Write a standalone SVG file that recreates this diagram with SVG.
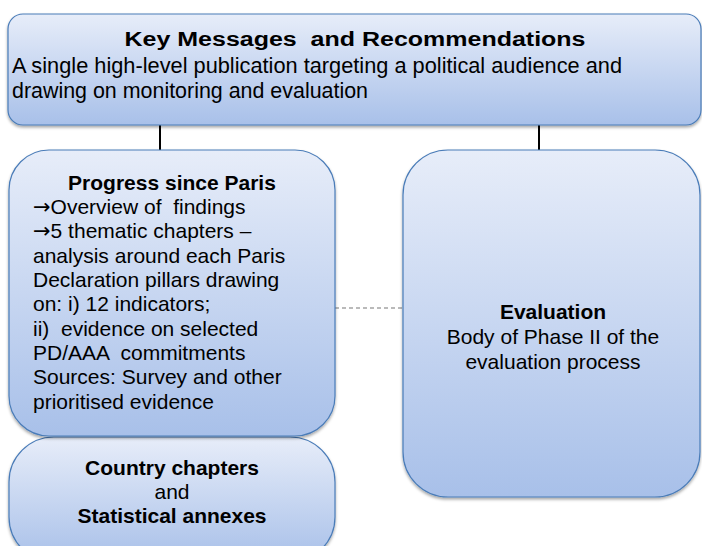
<svg xmlns="http://www.w3.org/2000/svg" width="702" height="546" viewBox="0 0 702 546">
<defs>
<linearGradient id="g" x1="0" y1="0" x2="0" y2="1">
<stop offset="0" stop-color="#e7edf9"/>
<stop offset="1" stop-color="#a8c0e9"/>
</linearGradient>
<filter id="sh" x="-5%" y="-5%" width="110%" height="115%">
<feDropShadow dx="0" dy="2" stdDeviation="1.5" flood-color="#000" flood-opacity="0.35"/>
</filter>
<style>
.box{fill:url(#g);stroke:#4a7cb8;stroke-width:1.2;filter:url(#sh)}
text{font-family:"Liberation Sans",Arial,sans-serif;font-size:21px;fill:#000;white-space:pre}
.b{font-weight:bold}
.n{font-family:"Liberation Sans Narrow","Liberation Sans",Arial,sans-serif;font-size:22px}
.nt{font-size:20px}
.c{text-anchor:middle}
.ar{font-family:"DejaVu Sans",sans-serif}
.conn{stroke:#000;stroke-width:2;fill:none}
.dash{stroke:#777;stroke-width:1.2;stroke-dasharray:4 3;fill:none}
</style>
</defs>
<g id="connectors">
<line class="conn" x1="160" y1="125" x2="160" y2="151"/>
<line class="conn" x1="539" y1="125" x2="539" y2="151"/>
<line class="dash" x1="335" y1="308" x2="403" y2="308"/>
</g>
<g id="key-messages">
<rect class="box" x="8" y="14" width="693" height="111" rx="15"/>
<text class="n nt b c" x="355" y="46" textLength="461" lengthAdjust="spacingAndGlyphs">Key Messages  and Recommendations</text>
<text class="n" x="12" y="73" textLength="610" lengthAdjust="spacingAndGlyphs">A single high-level publication targeting a political audience and</text>
<text class="n" x="12" y="98" textLength="356" lengthAdjust="spacingAndGlyphs">drawing on monitoring and evaluation</text>
</g>
<g id="evaluation">
<rect class="box" x="403" y="150" width="297" height="347" rx="45"/>
<text class="b c" x="553" y="319">Evaluation</text>
<text class="c" x="553" y="344">Body of Phase II of the</text>
<text class="c" x="553" y="369">evaluation process</text>
</g>
<g id="country-chapters">
<rect class="box" x="9" y="437" width="326" height="125" rx="45"/>
<text class="b c" x="172" y="475">Country chapters</text>
<text class="c" x="172" y="499">and</text>
<text class="b c" x="172" y="523">Statistical annexes</text>
</g>
<g id="progress">
<rect class="box" x="9" y="150" width="326" height="286" rx="40"/>
<text class="b c" x="172" y="190">Progress since Paris</text>
<text x="33" y="214"><tspan class="ar">→</tspan>Overview of  findings</text>
<text x="33" y="238"><tspan class="ar">→</tspan>5 thematic chapters –</text>
<text x="33" y="263">analysis around each Paris</text>
<text x="33" y="287">Declaration pillars drawing</text>
<text x="33" y="311">on: i) 12 indicators;</text>
<text x="33" y="336">ii)  evidence on selected</text>
<text x="33" y="360">PD/AAA  commitments</text>
<text x="33" y="384">Sources: Survey and other</text>
<text x="33" y="409">prioritised evidence</text>
</g>
</svg>
